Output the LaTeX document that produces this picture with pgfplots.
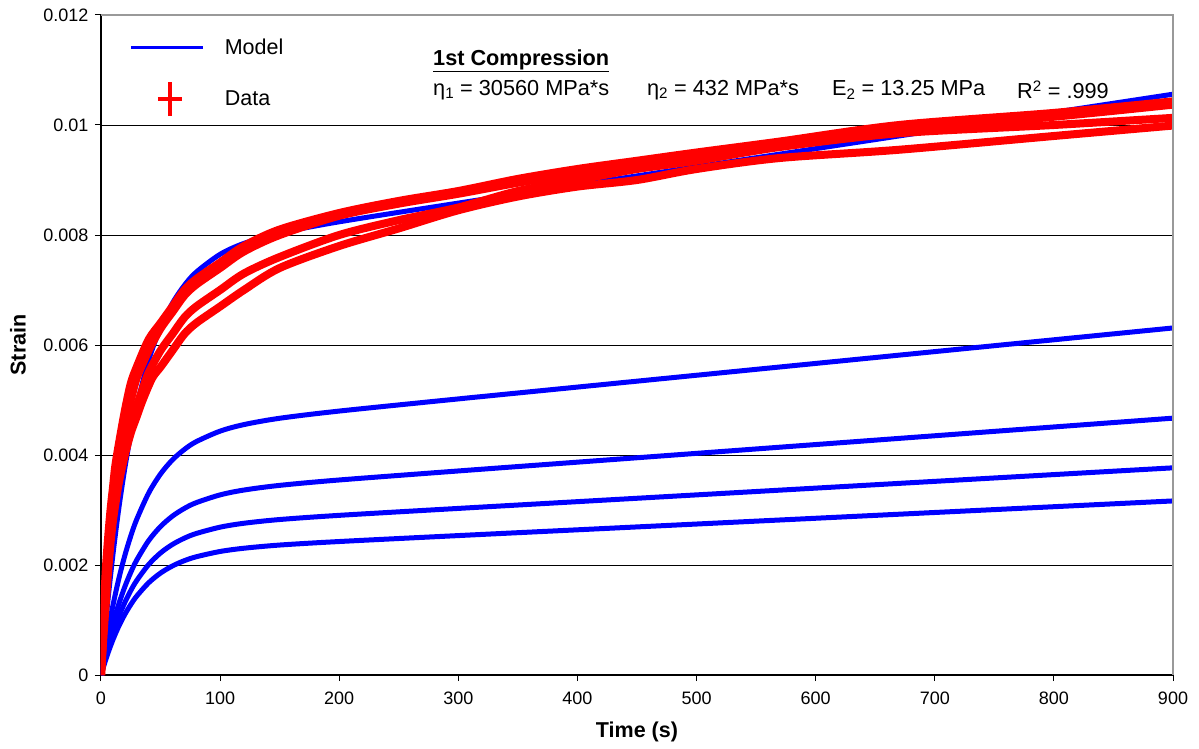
\documentclass[border=0pt]{standalone}
\usepackage{fontspec}
\setmainfont{Liberation Sans}
\usepackage{pgfplots}
\pgfplotsset{compat=1.18}
\begin{document}
\begin{tikzpicture}
\begin{axis}[
  scale only axis, width=1072pt, height=660pt,
  xmin=0, xmax=900, ymin=0, ymax=0.012,
  enlargelimits=false,
  axis x line*=bottom, axis y line*=left,
  x axis line style={-, black, line width=1.3pt},
  y axis line style={-, black, line width=1.3pt},
  xtick={0,100,...,900},
  xticklabels={0,100,200,300,400,500,600,700,800,900},
  ytick={0,0.002,0.004,0.006,0.008,0.010,0.012},
  yticklabels={0,0.002,0.004,0.006,0.008,0.01,0.012},
  tick align=outside, major tick length=6pt,
  tick style={black, line width=1pt},
  ymajorgrids, grid style={black, line width=0.9pt},
  ticklabel style={font=\fontsize{18}{21}\selectfont},
  xticklabel style={yshift=-7pt},
  yticklabel style={xshift=-3pt},
  xlabel={\textbf{Time (s)}}, ylabel={\textbf{Strain}},
  label style={font=\fontsize{21.5}{24}\selectfont},
  xlabel style={at={(axis description cs:0.5,-0.086)}, anchor=center},
  ylabel style={at={(axis description cs:-0.0774,0.5)}, anchor=center},
  legend style={draw=none, fill=none, at={(rel axis cs:0.026,0.967)}, anchor=north west,
    inner sep=0pt, row sep=22pt, font=\fontsize{21.5}{25}\selectfont},
  legend cell align=left,
]
\coordinate (ll) at (rel axis cs:0,0);
\coordinate (ur) at (rel axis cs:1,1);
\addlegendimage{legend image code/.code={\path[draw=none] (0pt,0pt) -- (92pt,0pt); \draw[blue, line width=3.5pt] (0pt,0pt) -- (72pt,0pt);}}
\addlegendentry{Model}
\addlegendimage{legend image code/.code={\path[draw=none] (0pt,0pt) -- (92pt,0pt); \draw[red, line width=4pt] (39pt,-17pt) -- (39pt,17pt) (27pt,0pt) -- (51pt,0pt);}}
\addlegendentry{Data}

% Model curves
\addplot[blue, line width=5pt, smooth, forget plot] coordinates {(0,0) (5,0.001182) (10,0.002185) (15,0.003036) (20,0.003759) (25,0.004374) (30,0.004897) (40,0.005721) (50,0.006321) (60,0.006761) (70,0.007085) (80,0.007326) (100,0.007649) (120,0.007847) (150,0.008034) (200,0.00824) (300,0.00858) (400,0.00891) (500,0.00924) (600,0.00957) (700,0.0099) (800,0.01023) (900,0.01056)};
\addplot[blue, line width=5pt, smooth, forget plot] coordinates {(0,0) (5,0.000683) (10,0.001262) (15,0.001754) (20,0.002172) (25,0.002528) (30,0.00283) (40,0.003308) (50,0.003656) (60,0.003912) (70,0.004101) (80,0.004243) (100,0.004434) (120,0.004553) (150,0.004668) (200,0.004799) (300,0.00502) (400,0.005235) (500,0.00545) (600,0.005665) (700,0.00588) (800,0.006095) (900,0.00631)};
\addplot[blue, line width=5pt, smooth, forget plot] coordinates {(0,0) (5,0.000504) (10,0.000932) (15,0.001295) (20,0.001604) (25,0.001866) (30,0.00209) (40,0.002443) (50,0.0027) (60,0.002889) (70,0.003029) (80,0.003134) (100,0.003275) (120,0.003363) (150,0.003448) (200,0.003546) (300,0.00371) (400,0.00387) (500,0.00403) (600,0.00419) (700,0.00435) (800,0.00451) (900,0.00467)};
\addplot[blue, line width=5pt, smooth, forget plot] coordinates {(0,0) (5,0.000414) (10,0.000766) (15,0.001065) (20,0.001319) (25,0.001535) (30,0.001718) (40,0.002008) (50,0.00222) (60,0.002374) (70,0.002488) (80,0.002573) (100,0.002688) (120,0.002759) (150,0.002827) (200,0.002903) (300,0.003029) (400,0.003152) (500,0.003275) (600,0.003398) (700,0.003521) (800,0.003644) (900,0.003767)};
\addplot[blue, line width=5pt, smooth, forget plot] coordinates {(0,0) (5,0.000346) (10,0.00064) (15,0.00089) (20,0.001101) (25,0.001281) (30,0.001435) (40,0.001677) (50,0.001854) (60,0.001983) (70,0.002079) (80,0.00215) (100,0.002246) (120,0.002305) (150,0.002363) (200,0.002427) (300,0.002535) (400,0.00264) (500,0.002745) (600,0.00285) (700,0.002955) (800,0.00306) (900,0.003165)};

% Data curves
\addplot[red, line width=8pt, smooth, line join=round, forget plot] coordinates {(0,0) (2,0.0010) (4,0.0019) (6,0.0025) (8,0.0030) (10,0.0034) (12,0.0038) (15,0.0042) (20,0.0048) (25,0.0053) (30,0.0056) (40,0.0061) (50,0.0064) (60,0.0067) (70,0.0070) (80,0.0072) (100,0.0075) (120,0.0078) (150,0.0081) (200,0.0084) (250,0.00862) (300,0.0088) (350,0.00902) (400,0.0092) (450,0.00935) (500,0.0095) (570,0.0097) (670,0.0100) (800,0.01022) (900,0.01043)};
\addplot[red, line width=8pt, smooth, line join=round, forget plot] coordinates {(0,0) (2,0.0009) (4,0.0017) (6,0.0023) (8,0.0028) (10,0.0032) (12,0.0036) (15,0.0040) (20,0.0046) (25,0.0050) (30,0.0054) (40,0.0059) (50,0.0063) (60,0.0066) (70,0.0069) (80,0.0071) (100,0.0074) (120,0.0077) (150,0.0080) (200,0.00835) (250,0.00857) (300,0.00875) (350,0.00895) (400,0.00912) (450,0.0093) (500,0.00945) (570,0.00965) (670,0.0099) (800,0.01015) (900,0.01037)};
\addplot[red, line width=8pt, smooth, line join=round, forget plot] coordinates {(0,0) (2,0.0008) (4,0.0015) (6,0.0021) (8,0.0026) (10,0.0030) (12,0.0033) (15,0.0037) (20,0.0042) (25,0.0046) (30,0.0049) (35,0.0052) (40,0.0055) (50,0.0059) (60,0.0062) (70,0.0065) (80,0.0067) (100,0.0070) (120,0.0073) (150,0.0076) (200,0.0080) (250,0.00827) (300,0.0085) (350,0.0088) (400,0.0090) (450,0.0092) (500,0.00935) (570,0.0096) (670,0.00985) (800,0.0100) (900,0.01013)};
\addplot[red, line width=8pt, smooth, line join=round, forget plot] coordinates {(0,0) (2,0.0007) (4,0.0013) (6,0.0019) (8,0.0024) (10,0.0028) (12,0.0031) (15,0.0035) (20,0.0040) (25,0.0044) (30,0.0047) (35,0.0050) (43,0.0054) (50,0.0056) (60,0.0059) (70,0.0062) (80,0.0064) (100,0.0067) (120,0.0070) (150,0.0074) (200,0.0078) (250,0.00812) (300,0.00845) (350,0.0087) (400,0.00888) (450,0.0090) (500,0.0092) (570,0.0094) (670,0.00955) (800,0.0098) (900,0.00999)};

\node[anchor=west, inner sep=0pt, font=\fontsize{21.7}{25}\selectfont\bfseries] at (rel axis cs:0.3097,0.9308) {\underline{1st Compression}};
\node[anchor=west, inner sep=0pt, font=\fontsize{21.7}{25}\selectfont] at (rel axis cs:0.3097,0.8868) {η\textsubscript{1} = 30560 MPa*s};
\node[anchor=west, inner sep=0pt, font=\fontsize{21.7}{25}\selectfont] at (rel axis cs:0.5093,0.8868) {η\textsubscript{2} = 432 MPa*s};
\node[anchor=west, inner sep=0pt, font=\fontsize{21.7}{25}\selectfont] at (rel axis cs:0.6819,0.8868) {E\textsubscript{2} = 13.25 MPa};
\node[anchor=west, inner sep=0pt, font=\fontsize{21.7}{25}\selectfont] at (rel axis cs:0.8545,0.8868) {R\textsuperscript{2} = .999};
\end{axis}
\draw[color=black!40, line width=1.6pt] (ll |- ur) -- (ur) -- (ur |- ll);
\path (ll) ++(-101pt,-73pt) coordinate (bba);
\path (ur) ++(26pt,15pt) coordinate (bbb);
\pgfresetboundingbox
\path[use as bounding box] (bba) rectangle (bbb);
\end{tikzpicture}
\end{document}
